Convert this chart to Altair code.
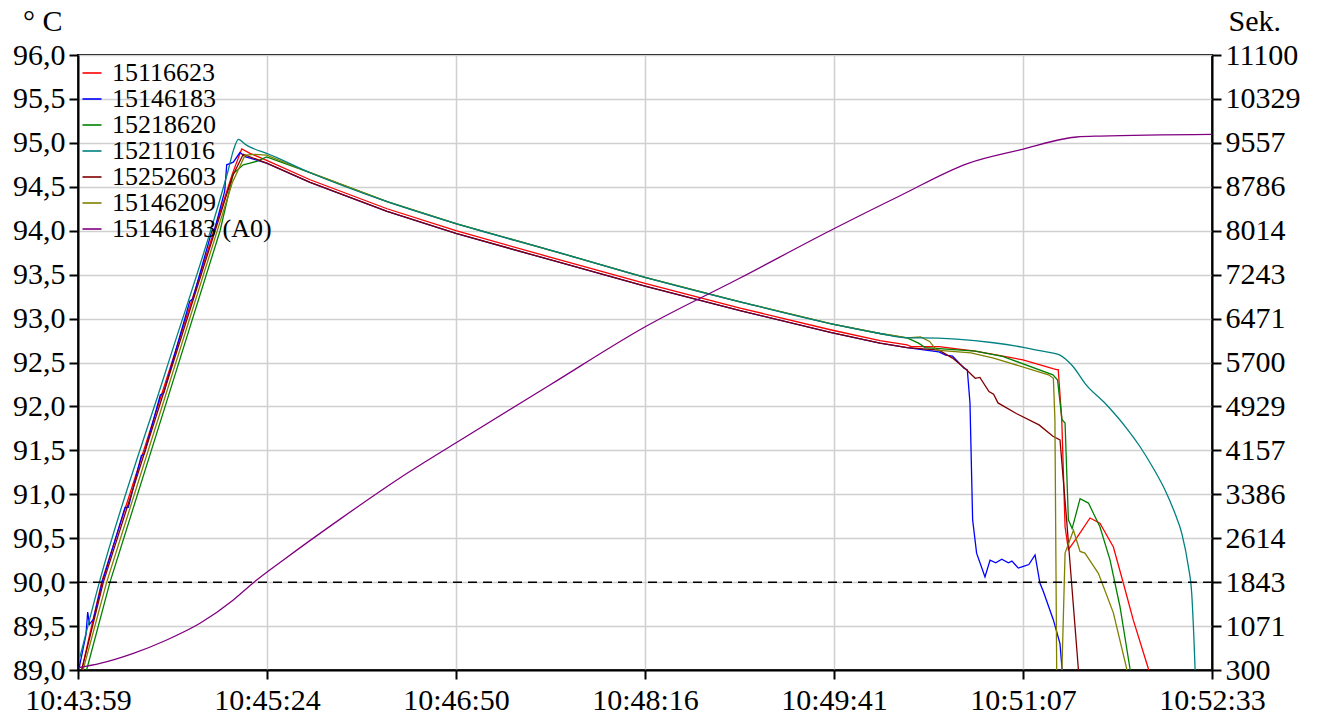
import altair as alt
import pandas as pd

X_LABELS = ["10:43:59", "10:45:24", "10:46:50", "10:48:16", "10:49:41", "10:51:07", "10:52:33"]
T_END = 514  # seconds between first and last tick label
SERIES = ["15116623", "15146183", "15218620", "15211016", "15252603", "15146209", "15146183 (A0)"]
COLORS = ["#ff0000", "#0000ff", "#008000", "#008080", "#800000", "#808000", "#800080"]
LEFT_TICKS = [89.0 + 0.5 * i for i in range(15)]
RIGHT_MIN, RIGHT_MAX = 300, 11100
REF_TEMP = [90.0]

# (seconds from 10:43:59, temperature °C)
RED = [(1.7, 89.0), (10.7, 90.0), (40, 92.3), (70, 94.65), (74.2, 94.93), (78, 94.88), (85.5, 94.80),
       (105.2, 94.58), (140.1, 94.25), (171.3, 94.00), (213.9, 93.70), (257.0, 93.40), (300.1, 93.12),
       (341.5, 92.87), (363.5, 92.75), (375.8, 92.70), (377.6, 92.68), (390.2, 92.68), (406.7, 92.63),
       (428.3, 92.53), (441.9, 92.43), (443.6, 92.42), (444.3, 92.42), (445.9, 91.85), (447.4, 90.63),
       (448.9, 90.37), (451.5, 90.46), (454.2, 90.56), (458.7, 90.73), (463.2, 90.67), (469.3, 90.40),
       (473.8, 89.99), (478.3, 89.57), (485.1, 89.02), (487.0, 88.75)]

BLUE = [(0.5, 89.02), (3.6, 89.4), (4.4, 89.66), (5.2, 89.52), (7.0, 89.58), (11.0, 90.0), (21.3, 90.85),
        (22.8, 90.85), (28.7, 91.44), (30.0, 91.46), (37.3, 92.13), (38.8, 92.15), (50.7, 93.2),
        (52.0, 93.22), (60.7, 94.0), (62.0, 94.02), (66.5, 94.45), (67.4, 94.75), (70.4, 94.78),
        (73.4, 94.89), (76, 94.84), (85.5, 94.77), (105.2, 94.55), (140.1, 94.22), (171.3, 93.97),
        (213.9, 93.67), (257.0, 93.37), (300.1, 93.09), (341.5, 92.84), (363.5, 92.72), (375.8, 92.67),
        (390.2, 92.62), (393.3, 92.585), (396.4, 92.574), (401.6, 92.434), (403.1, 92.415), (404.3, 92.04),
        (405.5, 90.71), (407.3, 90.33), (411.1, 90.06), (413.4, 90.25), (416.0, 90.22), (418.7, 90.26),
        (421.7, 90.22), (423.3, 90.24), (426.2, 90.16), (428.5, 90.18), (431.0, 90.2), (433.8, 90.31),
        (436.0, 89.99), (437.6, 89.89), (442.1, 89.57), (445.1, 89.30), (446.0, 89.02), (446.6, 88.66)]

GREEN = [(3.9, 89.0), (14.5, 90.0), (40, 92.04), (64.4, 94.0), (70.4, 94.65), (74.9, 94.75), (78, 94.77),
         (81, 94.79), (85.5, 94.84), (105.2, 94.66), (140.1, 94.33), (171.3, 94.08), (213.9, 93.78),
         (257.0, 93.47), (300.1, 93.19), (341.5, 92.94), (363.5, 92.83), (375.8, 92.78), (381, 92.72),
         (384, 92.67), (406.7, 92.63), (419.1, 92.57), (441.9, 92.36), (444.0, 92.30), (446.0, 91.85),
         (447.4, 91.81), (448.9, 90.71), (450.6, 90.61), (454.2, 90.95), (458.0, 90.90), (463.2, 90.63),
         (467.8, 90.25), (472.3, 89.72), (476.8, 89.02), (477.7, 88.77)]

TEAL = [(0.9, 89.15), (9.7, 90.0), (40, 92.42), (66, 94.5), (68, 94.68), (70.5, 94.92), (72.7, 95.04),
        (76, 94.98), (80, 94.93), (85.5, 94.88), (105.2, 94.66), (140.1, 94.33), (171.3, 94.08),
        (213.9, 93.78), (257.0, 93.47), (300.1, 93.19), (341.5, 92.94), (363.5, 92.83), (375.8, 92.78),
        (381.9, 92.78), (415.0, 92.725), (428.5, 92.673), (436.0, 92.634), (445.1, 92.585), (448.1, 92.528),
        (451.1, 92.452), (456.4, 92.263), (466.3, 92.016), (475.3, 91.751), (481.4, 91.541),
        (487.4, 91.296), (492.7, 91.049), (497.2, 90.783), (500.3, 90.556), (503.3, 90.176),
        (504.8, 89.873), (505.5, 89.532), (506.3, 89.019), (506.7, 88.66)]

DARKRED = [(1.7, 89.0), (11.5, 90.0), (40, 92.25), (70, 94.62), (74.9, 94.87), (85.5, 94.77), (105.2, 94.55),
           (140.1, 94.22), (171.3, 93.97), (213.9, 93.67), (257.0, 93.37), (300.1, 93.09), (341.5, 92.84),
           (363.5, 92.72), (375.8, 92.67), (390.2, 92.64), (396.4, 92.55), (402.6, 92.42), (406.7, 92.32),
           (408.8, 92.33), (412.9, 92.17), (415.0, 92.14), (417.0, 92.04), (425.3, 91.92), (435.6, 91.79),
           (441.9, 91.66), (445.1, 91.62), (448.1, 90.71), (453.4, 89.02), (454.4, 88.77)]

OLIVE = [(2.3, 89.0), (13.0, 90.0), (40, 92.15), (70, 94.55), (75.7, 94.86), (80, 94.87), (85.5, 94.86),
         (105.2, 94.66), (140.1, 94.33), (171.3, 94.08), (213.9, 93.78), (257.0, 93.47), (300.1, 93.19),
         (341.5, 92.94), (363.5, 92.83), (375.8, 92.78), (381.9, 92.79), (386.0, 92.74), (389.1, 92.64),
         (404.7, 92.61), (415.0, 92.55), (439.9, 92.36), (442.1, 92.32), (442.8, 91.85), (443.6, 89.02),
         (444.0, 88.4), (445.6, 88.4), (446.0, 89.02), (447.4, 90.33), (451.2, 90.59), (454.2, 90.35),
         (456.4, 90.33), (462.5, 90.10), (469.3, 89.65), (475.3, 89.02), (475.9, 88.77)]

# (seconds, A0 value in Sek.)
A0 = [(0.45, 344), (10, 417), (25.1, 593), (40.2, 827), (55.3, 1120), (70.4, 1529), (79.5, 1833),
      (93.1, 2232), (118.8, 2950), (145.9, 3672), (171.2, 4286), (213.9, 5305), (256.9, 6323),
      (300.1, 7184), (341.5, 8027), (372.6, 8629), (403.5, 9198), (428.5, 9449), (446.6, 9625),
      (452.7, 9660), (463.2, 9677), (514, 9707)]


def frame(name, pts):
    return pd.DataFrame({"t": [p[0] for p in pts], "v": [p[1] for p in pts],
                         "series": name, "i": list(range(len(pts)))})


temp_df = pd.concat([frame(n, p) for n, p in zip(
    [SERIES[0], SERIES[1], SERIES[2], SERIES[4], SERIES[5]], [RED, BLUE, GREEN, DARKRED, OLIVE])],
    ignore_index=True)
teal_df = frame(SERIES[3], TEAL)
a0_df = frame(SERIES[6], A0)
ref_df = pd.DataFrame({"v": REF_TEMP})

FONT = "Liberation Serif, Times New Roman, DejaVu Serif, serif"
step = T_END / 6
x_ticks = [step * i for i in range(7)]
x_label_expr = "[" + ",".join("'%s'" % s for s in X_LABELS) + "][round(datum.value / %f)]" % step
right_ticks = [RIGHT_MIN + (RIGHT_MAX - RIGHT_MIN) * i / 14 for i in range(15)]

x_enc = alt.X("t:Q", scale=alt.Scale(domain=[0, T_END], nice=False, zero=False),
              axis=alt.Axis(values=x_ticks, labelExpr=x_label_expr, title=None, grid=True,
                            labelFlush=False, labelOverlap=False, labelPadding=6))

legend = alt.Legend(orient="none", legendX=1, legendY=5, title=None, symbolType="stroke",
                    symbolSize=361, symbolStrokeWidth=1.6, labelFont=FONT, labelFontSize=26,
                    labelColor="black", labelLimit=300, labelOffset=7, rowPadding=0, padding=0)
color_enc = alt.Color("series:N", scale=alt.Scale(domain=SERIES, range=COLORS), legend=legend)

left_y = alt.Y("v:Q", scale=alt.Scale(domain=[89, 96], nice=False, zero=False),
               axis=alt.Axis(orient="left", values=LEFT_TICKS, grid=True, labelOverlap=False,
                             labelExpr="replace(format(datum.value, '.1f'), '.', ',')", labelPadding=4,
                             title="° C", titleAngle=0, titleAlign="right", titleBaseline="alphabetic",
                             titleX=-16, titleY=-25))

temps = alt.Chart(temp_df).mark_line(strokeWidth=1.3, clip=True).encode(
    x=x_enc, y=left_y, color=color_enc, order="i:Q",
)
teal = alt.Chart(teal_df).mark_line(strokeWidth=1.3, clip=True, interpolate="monotone").encode(
    x=x_enc, y=left_y, color=color_enc, order="i:Q",
)

ref = alt.Chart(ref_df).mark_rule(color="black", strokeDash=[9, 6], strokeWidth=1.5).encode(
    y=alt.Y("v:Q", scale=alt.Scale(domain=[89, 96], nice=False, zero=False), axis=None)
)

a0 = alt.Chart(a0_df).mark_line(strokeWidth=1.3, clip=True, interpolate="monotone").encode(
    x=x_enc,
    y=alt.Y("v:Q", scale=alt.Scale(domain=[RIGHT_MIN, RIGHT_MAX], nice=False, zero=False),
            axis=alt.Axis(orient="right", values=right_ticks, format=".0f", grid=False,
                          labelOverlap=False, labelPadding=4,
                          title="Sek.", titleAngle=0, titleAlign="left", titleBaseline="alphabetic",
                          titleX=16, titleY=-25)),
    color=color_enc,
    order="i:Q",
)

chart = alt.layer(alt.layer(temps, teal), ref, a0).resolve_scale(y="independent").properties(
    width=1134, height=615,
    autosize=alt.AutoSizeParams(type="none"),
    padding={"left": 70, "top": 47, "right": 100, "bottom": 46},
).configure_view(stroke="black", strokeWidth=2).configure_axis(
    domainColor="black", domainWidth=2, tickColor="black", tickWidth=2, tickSize=9,
    labelFont=FONT, labelFontSize=30, labelColor="black",
    titleFont=FONT, titleFontSize=30, titleFontWeight="normal", titleColor="black",
    gridColor="#d0d0d0", gridWidth=1.5,
)

chart.save("out.html", embed_options={"renderer": "svg", "actions": False})
